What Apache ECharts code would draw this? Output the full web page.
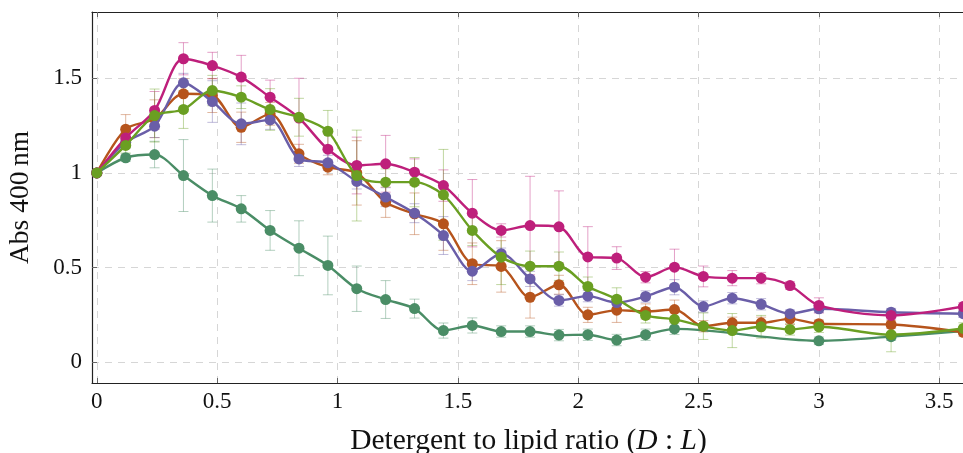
<!DOCTYPE html>
<html>
<head>
<meta charset="utf-8">
<script src="https://cdn.jsdelivr.net/npm/echarts@6/dist/echarts.min.js"></script>
<style>html,body{margin:0;padding:0;background:#fff}#c{width:963px;height:453px}</style>
</head>
<body>
<div id="c"></div>
<script>
// ---- data ----
const xValues = [0,0.12,0.24,0.36,0.48,0.6,0.72,0.84,0.96,1.08,1.2,1.32,1.44,1.56,1.68,1.8,1.92,2.04,2.16,2.28,2.4,2.52,2.64,2.76,2.88,3.0,3.3,3.6];
const xTicks = [0,0.5,1,1.5,2,2.5,3,3.5];
const yTicks = [0,0.5,1,1.5];

const darkGreen = [1,1.08,1.097,0.986,0.88,0.81,0.696,0.602,0.511,0.388,0.331,0.283,0.167,0.194,0.162,0.162,0.143,0.145,0.117,0.145,0.176,null,null,null,null,0.113,0.135,0.165];
const darkGreenErr = [0,0.02,0.07,0.19,0.14,0.07,0.105,0.145,0.155,0.12,0.1,0.05,0.04,0.04,0.03,0.03,0.03,0.03,0.03,0.03,0.03,null,null,null,null,0.02,0.02,0.02];

const orange = [1,1.231,1.286,1.418,1.409,1.241,1.312,1.101,1.03,1.0,0.845,0.784,0.731,0.52,0.506,0.343,0.409,0.25,0.275,0.268,0.278,0.19,0.208,0.208,0.229,0.203,0.199,0.158];
const orangeErr = [0,0.077,0.1,0.08,0.09,0.08,0.06,0.05,0.04,0.17,0.08,0.11,0.14,0.11,0.136,0.11,0.05,0.04,0.065,0.04,0.05,0.03,0.03,0.03,0.03,0.02,0.02,0.02];

const purple = [1,1.162,1.247,1.476,1.377,1.259,1.28,1.074,1.053,0.955,0.872,0.787,0.669,0.481,0.573,0.44,0.326,0.349,0.315,0.347,0.396,0.294,0.338,0.306,0.256,0.282,0.264,0.256];
const purpleErr = [0,0.03,0.06,0.05,0.11,0.11,0.05,0.04,0.04,0.04,0.05,0.05,0.1,0.05,0.03,0.04,0.03,0.03,0.03,0.03,0.04,0.03,0.03,0.03,0.02,0.02,0.02,0.02];

const magenta = [1,1.185,1.33,1.603,1.567,1.506,1.40,1.29,1.125,1.039,1.048,1.004,0.933,0.787,0.696,0.722,0.715,0.556,0.55,0.449,0.502,0.453,0.444,0.444,0.405,0.30,0.247,0.294];
const magentaErr = [0,0.03,0.1,0.085,0.07,0.115,0.09,0.21,0.08,0.15,0.15,0.07,0.083,0.178,0.035,0.26,0.19,0.16,0.06,0.03,0.095,0.055,0.04,0.03,0.02,0.04,0.02,0.02];

const green = [1,1.145,1.303,1.335,1.435,1.40,1.335,1.294,1.22,0.986,0.951,0.951,0.884,0.696,0.555,0.507,0.507,0.40,0.333,0.247,0.226,0.19,0.167,0.187,0.173,0.187,0.145,0.178];
const greenErr = [0,0.04,0.14,0.1,0.08,0.06,0.11,0.1,0.11,0.24,0.07,0.13,0.24,0.08,0.145,0.08,0.075,0.05,0.06,0.04,0.05,0.07,0.09,0.06,0.03,0.03,0.09,0.03];

// ---- chart ----
const seriesDefs = [
  {name:'s1', y:darkGreen, e:darkGreenErr, color:'#4a8d66', bar:'rgba(74,141,102,0.42)'},
  {name:'s2', y:orange, e:orangeErr, color:'#b6541c', bar:'rgba(182,84,28,0.42)'},
  {name:'s3', y:purple, e:purpleErr, color:'#6a5ea8', bar:'rgba(106,94,168,0.42)'},
  {name:'s4', y:magenta, e:magentaErr, color:'#be1f7b', bar:'rgba(190,31,123,0.42)'},
  {name:'s5', y:green, e:greenErr, color:'#6a9f22', bar:'rgba(106,159,34,0.42)'}
];

const font = '"Liberation Serif", "DejaVu Serif", serif';
const series = [];
seriesDefs.forEach((s, idx) => {
  const errData = [];
  xValues.forEach((x, i) => {
    if (s.y[i] != null && s.e[i] != null && s.e[i] > 0) errData.push([x, s.y[i] - s.e[i], s.y[i] + s.e[i]]);
  });
  series.push({
    type: 'custom',
    name: s.name + '_err',
    clip: true,
    z: 1,
    silent: true,
    data: errData,
    encode: {x: 0, y: [1, 2]},
    renderItem: function (params, api) {
      const x = api.value(0), lo = api.value(1), hi = api.value(2);
      const a = api.coord([x, lo]), b = api.coord([x, hi]);
      const st = {stroke: s.bar, lineWidth: 1};
      return {type: 'group', children: [
        {type: 'line', shape: {x1: a[0], y1: a[1], x2: b[0], y2: b[1]}, style: st},
        {type: 'line', shape: {x1: a[0]-5, y1: a[1], x2: a[0]+5, y2: a[1]}, style: st},
        {type: 'line', shape: {x1: b[0]-5, y1: b[1], x2: b[0]+5, y2: b[1]}, style: st}
      ]};
    }
  });
});
seriesDefs.forEach((s, idx) => {
  series.push({
    type: 'line',
    name: s.name,
    z: 3 + idx,
    data: xValues.map((x, i) => [x, s.y[i]]),
    connectNulls: true,
    smooth: 0.3,
    symbol: 'circle',
    symbolSize: 11,
    showSymbol: true,
    itemStyle: {color: s.color},
    lineStyle: {color: s.color, width: 2.4},
    emphasis: {disabled: true},
    animation: false
  });
});

const chart = echarts.init(document.getElementById('c'), null, {renderer: 'canvas'});
chart.setOption({
  animation: false,
  backgroundColor: '#fff',
  grid: {left: 92, top: 12, right: -2, bottom: 70, containLabel: false, outerBoundsMode: 'none'},
  xAxis: [{
    type: 'value', min: -0.02, max: 3.607, position: 'bottom',
    name: 'Detergent to lipid ratio ({i|D} : {i|L})',
    nameLocation: 'middle', nameGap: 43,
    nameTextStyle: {fontFamily: font, fontSize: 29.5, color: '#111', rich: {i: {fontFamily: font, fontSize: 29.5, fontStyle: 'italic', color: '#111'}}},
    axisLine: {show: true, onZero: false, lineStyle: {color: '#222', width: 1.2}},
    axisTick: {show: true, inside: true, length: 5, customValues: xTicks, lineStyle: {color: '#666'}},
    axisLabel: {customValues: xTicks, fontFamily: font, fontSize: 23, color: '#111', margin: 7},
    splitLine: {show: true, lineStyle: {color: '#d6d6d6', type: [7, 6], width: 1}}
  }, {
    type: 'value', min: -0.02, max: 3.607, position: 'top',
    axisLine: {show: true, onZero: false, lineStyle: {color: '#222', width: 1.2}},
    axisTick: {show: true, inside: true, length: 5, customValues: xTicks, lineStyle: {color: '#666'}},
    axisLabel: {show: false},
    splitLine: {show: false}
  }],
  yAxis: [{
    type: 'value', min: -0.11, max: 1.85,
    name: 'Abs 400\u2009nm', nameLocation: 'middle', nameGap: 57, nameRotate: 90,
    nameTextStyle: {fontFamily: font, fontSize: 27.5, color: '#111'},
    axisLine: {show: true, onZero: false, lineStyle: {color: '#222', width: 1.2}},
    axisTick: {show: true, inside: true, length: 5, customValues: yTicks, lineStyle: {color: '#666'}},
    axisLabel: {customValues: yTicks, fontFamily: font, fontSize: 23, color: '#111', margin: 10},
    splitLine: {show: true, lineStyle: {color: '#d6d6d6', type: [7, 6], width: 1}}
  }],
  series: series
});
</script>
</body>
</html>
